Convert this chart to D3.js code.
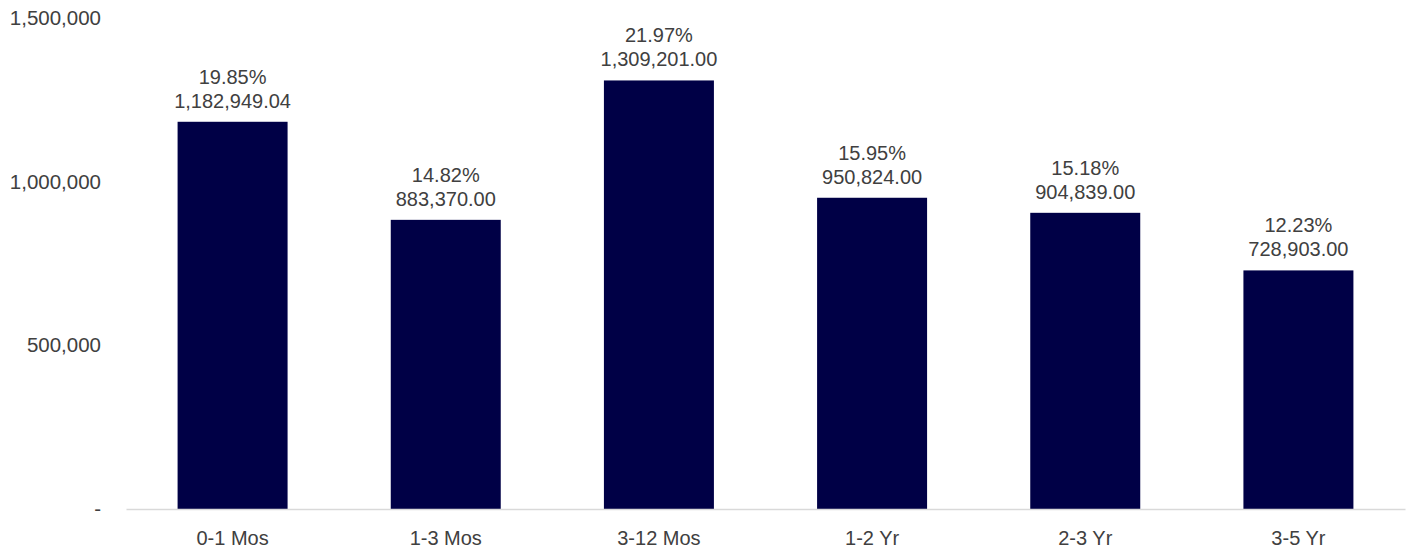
<!DOCTYPE html>
<html>
<head>
<meta charset="utf-8">
<script src="https://cdn.jsdelivr.net/npm/d3@7"></script>
<style>
  body { margin: 0; background: #fff; }
  text { font-family: "Liberation Sans", Arial, sans-serif; fill: #404040; }
</style>
</head>
<body>
<div class="chart"></div>
<script>
// data
var categories = ["0-1 Mos", "1-3 Mos", "3-12 Mos", "1-2 Yr", "2-3 Yr", "3-5 Yr"];
var amounts = [1182949.04, 883370.00, 1309201.00, 950824.00, 904839.00, 728903.00];
var shares = ["19.85%", "14.82%", "21.97%", "15.95%", "15.18%", "12.23%"];
var yTicks = [0, 500000, 1000000, 1500000];

var svgWidth = 1411;
var svgHeight = 552;

var margin = { top: 18, right: 6, bottom: 43, left: 126 };
var width = svgWidth - margin.left - margin.right;
var height = svgHeight - margin.top - margin.bottom;

var svg = d3.select(".chart")
  .append("svg")
  .attr("width", svgWidth)
  .attr("height", svgHeight);

var chartGroup = svg.append("g")
  .attr("transform", `translate(${margin.left}, ${margin.top})`);

var data = categories.map(function(c, i) {
  return { cat: c, amount: amounts[i], share: shares[i] };
});

// scales
var xScale = d3.scaleBand()
  .domain(categories)
  .range([0, width])
  .paddingInner(0.484)
  .paddingOuter(0.242);

var yScale = d3.scaleLinear()
  .domain([0, 1500000])
  .range([height, 0]);

// y axis labels (no line, no ticks)
var yAxis = d3.axisLeft(yScale)
  .tickValues(yTicks)
  .tickSize(0)
  .tickPadding(25)
  .tickFormat(d => d === 0 ? "-" : d3.format(",")(d));

var yG = chartGroup.append("g").call(yAxis);
yG.select(".domain").remove();
yG.selectAll("text")
  .attr("font-size", "20.5px")
  .style("font-family", "\"Liberation Sans\", Arial, sans-serif")
  .attr("fill", "#404040");

// bars
chartGroup.selectAll("rect.bar")
  .data(data)
  .enter()
  .append("rect")
  .attr("class", "bar")
  .attr("x", d => xScale(d.cat))
  .attr("y", d => yScale(d.amount))
  .attr("width", xScale.bandwidth())
  .attr("height", d => height - yScale(d.amount))
  .attr("fill", "#000046");

// x axis
var xAxis = d3.axisBottom(xScale).tickSize(0).tickPadding(22);
var xG = chartGroup.append("g")
  .attr("transform", `translate(0, ${height})`)
  .call(xAxis);
xG.select(".domain").attr("stroke", "#d9d9d9").attr("stroke-width", 1.5);
xG.selectAll("text")
  .attr("font-size", "20px")
  .style("font-family", "\"Liberation Sans\", Arial, sans-serif")
  .attr("fill", "#404040");

// data labels
var labels = chartGroup.selectAll("g.lbl")
  .data(data)
  .enter()
  .append("g")
  .attr("class", "lbl")
  .attr("transform", d => `translate(${xScale(d.cat) + xScale.bandwidth() / 2}, ${yScale(d.amount) - 14})`);

labels.append("text")
  .attr("text-anchor", "middle")
  .attr("font-size", "20px")
  .text(d => d3.format(",.2f")(d.amount));

labels.append("text")
  .attr("text-anchor", "middle")
  .attr("font-size", "20px")
  .attr("y", -24)
  .text(d => d.share);
</script>
</body>
</html>
